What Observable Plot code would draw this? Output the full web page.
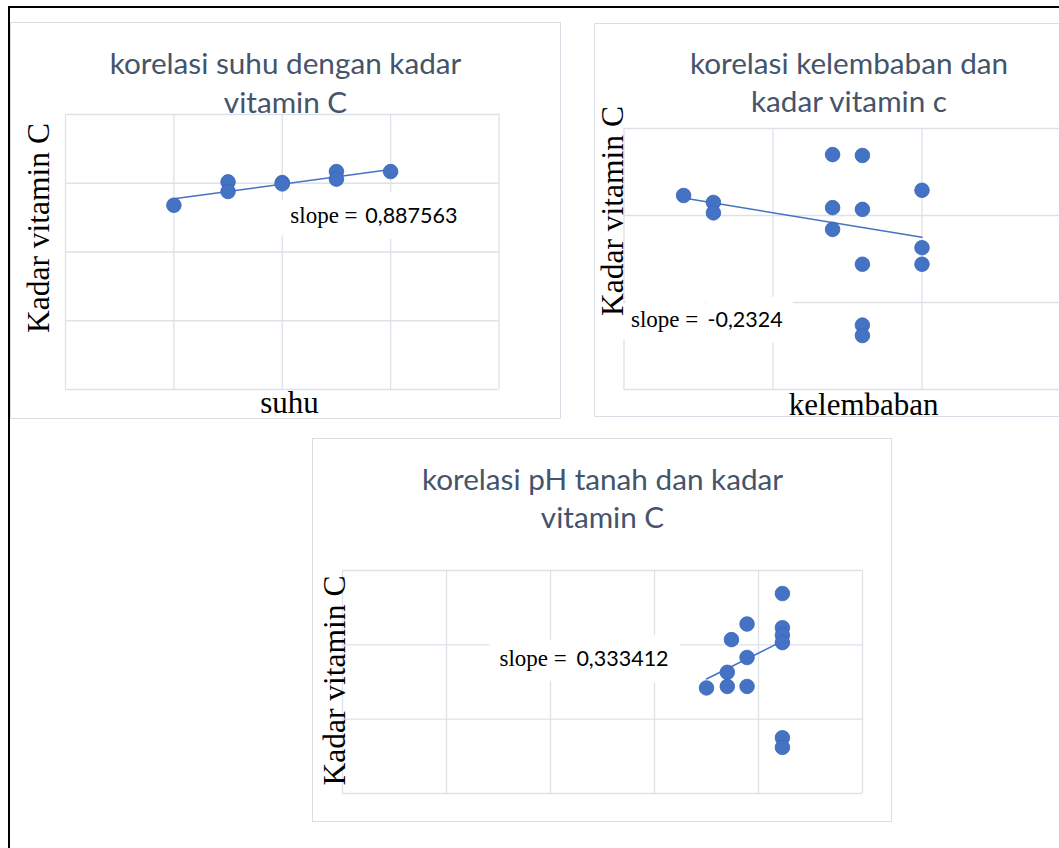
<!DOCTYPE html>
<html><head><meta charset="utf-8">
<script src="https://cdn.jsdelivr.net/npm/d3@7"></script>
<script src="https://cdn.jsdelivr.net/npm/@observablehq/plot@0.6"></script>
<style>
html,body{margin:0;padding:0;background:#fff;}
#page{position:relative;width:1059px;height:848px;overflow:hidden;background:#fff;}
.docframe{position:absolute;left:7.5px;top:6px;width:1200px;height:1000px;border-top:2px solid #000;border-left:2px solid #000;}
.panel{position:absolute;background:#fff;}
.panel svg{position:absolute;left:0;top:0;max-width:none !important;}
.pborder{position:absolute;left:0;top:0;right:0;bottom:0;border:1.5px solid #d9dde5;box-sizing:border-box;pointer-events:none;}
</style></head>
<body><div id="page"><div class="docframe"></div></div>
<script>
// ---- data: chart 1 (suhu) ----
const suhuTicks = [26, 27, 28, 29, 30];
const vitaminTicks40 = [0, 10, 20, 30, 40];
const suhu = [27, 27.5, 27.5, 28, 28, 28.5, 28.5, 29];
const vitaminCSuhu = [26.8, 30.2, 28.8, 30.1, 29.9, 31.7, 30.6, 31.7];
const suhuTrendX = [27, 29];
const suhuTrendY = [27.75, 32.0];

// ---- data: chart 2 (kelembaban) ----
const kelembabanTicks = [70, 80, 90, 100];
const vitaminTicks30 = [0, 10, 20, 30];
const kelembaban = [74, 76, 76, 84, 84, 84, 86, 86, 86, 86, 86, 90, 90, 90];
const vitaminCKelembaban = [22.3, 21.5, 20.3, 27.0, 20.9, 18.4, 26.9, 20.7, 14.4, 7.4, 6.2, 22.9, 16.3, 14.4];
const kelembabanTrendX = [74, 90];
const kelembabanTrendY = [22.0, 17.5];

// ---- data: chart 3 (pH tanah) ----
const phTicks = [3, 4, 5, 6, 7, 8];
const phTanah = [6.5, 6.7, 6.7, 6.74, 6.89, 6.89, 6.89, 7.23, 7.23, 7.23, 7.23, 7.23, 7.23];
const vitaminCPh = [14.2, 16.3, 14.4, 20.7, 18.3, 14.4, 22.8, 26.9, 22.3, 21.3, 20.3, 7.5, 6.2];
const phTrendX = [6.5, 7.23];
const phTrendY = [15.4, 20.5];

// ---- text ----
const titleSuhu = ["korelasi suhu dengan kadar", "vitamin C"];
const titleKelembaban = ["korelasi kelembaban dan", "kadar vitamin c"];
const titlePh = ["korelasi pH tanah dan kadar", "vitamin C"];
const yLabel = "Kadar vitamin C";
const xLabelSuhu = "suhu";
const xLabelKelembaban = "kelembaban";
const slopePrefix = "slope =";
const slopeSuhu = "0,887563";
const slopeKelembaban = "-0,2324";
const slopePh = "0,333412";

// ---- styles ----
const GRID = "#dde1e8";
const BLUE = "#4472c4";
const TITLE = "#44546a";
const SANS = "Lato, 'Open Sans', sans-serif";
const SERIF = "'Liberation Serif', 'Times New Roman', serif";

function drawPanel(p) {
  const at = (ax, ay) => ({frameAnchor: "top-left", dx: ax - p.left - p.ml, dy: ay - p.top - p.mt});
  const txt = (s, ax, ay, o) => Plot.text([s], {...at(ax, ay), text: d => d, lineAnchor: "bottom", ...o});
  const pts = p.xs.map((x, i) => ({x, y: p.ys[i]}));
  const trend = p.tx.map((x, i) => ({x, y: p.ty[i]}));
  const parts = [
    {s: slopePrefix, x: p.slopeX, font: SERIF, size: 23},
    {s: p.slope, x: p.numX, font: SANS, size: 21.5}
  ];
  const marks = [
    Plot.ruleX(p.xTicks, {stroke: GRID, strokeWidth: 1.3}),
    Plot.ruleY(p.yTicks, {stroke: GRID, strokeWidth: 1.3}),
    ...parts.map(o => txt(o.s, o.x, p.slopeY, {textAnchor: "start", fontFamily: o.font, fontSize: o.size, fill: "white", stroke: "white", strokeWidth: p.halo})),
    ...parts.map(o => txt(o.s, o.x, p.slopeY, {textAnchor: "start", fontFamily: o.font, fontSize: o.size, fill: "#000"})),
    Plot.line(trend, {x: "x", y: "y", stroke: BLUE, strokeWidth: 1.5}),
    Plot.dot(pts, {x: "x", y: "y", r: 7.3, fill: BLUE, stroke: "#3a64b2", strokeWidth: 0.8}),
    txt(p.title[0], p.titleX, p.titleY[0], {textAnchor: "middle", fontFamily: SANS, fontSize: 29.7, fill: TITLE}),
    txt(p.title[1], p.titleX, p.titleY[1], {textAnchor: "middle", fontFamily: SANS, fontSize: 29.7, fill: TITLE}),
    txt(yLabel, p.yLabX, p.yLabY, {rotate: -90, textAnchor: "middle", fontFamily: SERIF, fontSize: 31.5, fill: "#000"})
  ];
  if (p.xLabel) marks.push(txt(p.xLabel, p.xLabX, p.xLabY, {textAnchor: "middle", fontFamily: SERIF, fontSize: 31, fill: "#000"}));
  const svg = Plot.plot({
    width: p.width, height: p.height,
    marginLeft: p.ml, marginRight: p.mr, marginTop: p.mt, marginBottom: p.mb,
    x: {domain: p.xDomain, axis: null},
    y: {domain: p.yDomain, axis: null},
    style: {background: "transparent", overflow: "visible"},
    marks
  });
  const div = document.createElement("div");
  div.className = "panel";
  Object.assign(div.style, {left: p.left + "px", top: p.top + "px", width: p.width + "px", height: p.height + "px"});
  div.appendChild(svg);
  const b = document.createElement("div");
  b.className = "pborder";
  div.appendChild(b);
  document.getElementById("page").appendChild(div);
}

drawPanel({
  left: 9.5, top: 21.5, width: 551, height: 397, ml: 55, mr: 62.5, mt: 92, mb: 30,
  xDomain: [26, 30], yDomain: [0, 40], xTicks: suhuTicks, yTicks: vitaminTicks40,
  xs: suhu, ys: vitaminCSuhu, tx: suhuTrendX, ty: suhuTrendY,
  title: titleSuhu, titleX: 284.5, titleY: [73.3, 111.7],
  yLabX: 48, yLabY: 227, xLabel: xLabelSuhu, xLabX: 288.5, xLabY: 411.5,
  slope: slopeSuhu, slopeX: 289.3, numX: 364.3, slopeY: 221.7, halo: 32
});
drawPanel({
  left: 593.5, top: 23, width: 509, height: 394, ml: 29.5, mr: 32.5, mt: 105, mb: 28,
  xDomain: [70, 100], yDomain: [0, 30], xTicks: kelembabanTicks, yTicks: vitaminTicks30,
  xs: kelembaban, ys: vitaminCKelembaban, tx: kelembabanTrendX, ty: kelembabanTrendY,
  title: titleKelembaban, titleX: 848, titleY: [73.3, 111.7],
  yLabX: 622, yLabY: 210.5, xLabel: xLabelKelembaban, xLabX: 862.7, xLabY: 414.5,
  slope: slopeKelembaban, slopeX: 630, numX: 706.5, slopeY: 326.7, halo: 32
});
drawPanel({
  left: 312, top: 438, width: 580, height: 384, ml: 30, mr: 30, mt: 132, mb: 29,
  xDomain: [3, 8], yDomain: [0, 30], xTicks: phTicks, yTicks: vitaminTicks30,
  xs: phTanah, ys: vitaminCPh, tx: phTrendX, ty: phTrendY,
  title: titlePh, titleX: 602, titleY: [489.3, 527.7],
  yLabX: 344, yLabY: 680,
  slope: slopePh, slopeX: 499, numX: 575.9, slopeY: 665, halo: 32
});
</script>
</body></html>
